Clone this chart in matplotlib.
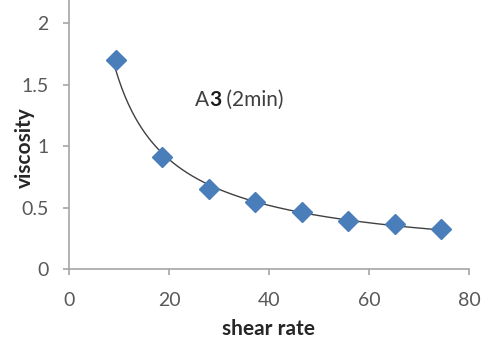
import numpy as np
import matplotlib
matplotlib.use("Agg")
import matplotlib.pyplot as plt

shear_rate = [9.3, 18.6, 27.9, 37.2, 46.5, 55.8, 65.1, 74.4]
viscosity = [1.70, 0.915, 0.655, 0.55, 0.465, 0.395, 0.365, 0.325]
x_ticks = [0, 20, 40, 60, 80]
y_ticks = [0, 0.5, 1, 1.5, 2]
y_ticklabels = ["0", "0.5", "1", "1.5", "2"]

plt.rcParams['font.family'] = ['Lato', 'DejaVu Sans']

fig = plt.figure(figsize=(4.86, 3.38), dpi=100)
ax = fig.add_axes([69/486, 1 - 269.3/338, 400/486, 269.3/338])

# power-law trendline fitted to data
xs = np.array(shear_rate)
ys = np.array(viscosity)
b, lna = np.polyfit(np.log(xs), np.log(ys), 1)
xf = np.linspace(xs.min(), xs.max(), 200)
ax.plot(xf, np.exp(lna) * xf ** b, color='#404040', lw=1.0, zorder=2)

ax.plot(shear_rate, viscosity, linestyle='none', marker='D', ms=10,
        color='#4a7ebb', markeredgecolor='#4a7ebb', zorder=3)

ax.set_xlim(0, 80)
ax.set_ylim(0, 269.3/123)
ax.set_xticks(x_ticks)
ax.set_yticks(y_ticks)
ax.set_yticklabels(y_ticklabels)
for s in ['top', 'right']:
    ax.spines[s].set_visible(False)
for s in ['left', 'bottom']:
    ax.spines[s].set_color('#a6a6a6')
    ax.spines[s].set_linewidth(1.2)
ax.tick_params(axis='both', direction='out', length=4.5, width=1.2,
               color='#a6a6a6', labelcolor='#595959', labelsize=14)
ax.tick_params(axis='x', pad=12)
ax.tick_params(axis='y', pad=10)

fig.text(269/486, 1 - 335/338, 'shear rate', ha='center', va='baseline',
         fontsize=15, fontweight='bold', color='#262626')
fig.text(25/486, 1 - 148/338, 'viscosity', ha='center', va='center',
         rotation=90, fontsize=15, fontweight='bold', color='#262626')

t1 = ax.text(25.2, 1.376, 'A', ha='left', va='center', fontsize=15, color='#404040')
t2 = ax.annotate('3', xy=(1, 0), xycoords=t1, ha='left', va='bottom',
                 fontsize=15, fontweight='bold', color='#1a1a1a')
t3 = ax.annotate(' (2min)', xy=(1, 0), xycoords=t2, ha='left', va='bottom',
                 fontsize=15, color='#404040')

fig.savefig('out.png', dpi=100)
